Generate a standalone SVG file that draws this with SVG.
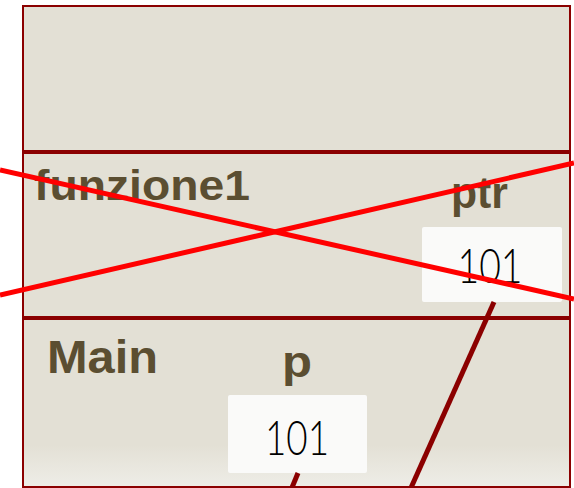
<svg xmlns="http://www.w3.org/2000/svg" width="574" height="488" viewBox="0 0 574 488">
<defs>
<style>
.frame{fill:#e3e0d5;stroke:#8b0000;stroke-width:2}
.sep{stroke:#8b0000;stroke-width:4}
.lbl{font-family:"Liberation Sans","DejaVu Sans",sans-serif;font-weight:bold;fill:#5b4e31}
.val{font-family:Lato,"Liberation Sans",sans-serif;font-weight:300;fill:#000;text-anchor:middle}
.box{fill:#fafaf9}
.conn{stroke:#8b0000;stroke-width:5;fill:none}
.cross{stroke:#ff0000;stroke-width:5}
</style>
<linearGradient id="bg" x1="0" y1="0" x2="0" y2="1">
<stop offset="0" stop-color="#e3e0d5"/>
<stop offset="0.75" stop-color="#e3e0d5"/>
<stop offset="1" stop-color="#eeede7"/>
</linearGradient>
</defs>
<rect width="574" height="488" fill="#ffffff"/>
<g id="frame-top">
<rect class="frame" x="23" y="6" width="547" height="146"/>
</g>
<g id="frame-funzione1">
<rect class="frame" x="23" y="152" width="547" height="166"/>
<text class="lbl" x="34" y="200" font-size="42" textLength="216" lengthAdjust="spacingAndGlyphs">funzione1</text>
</g>
<g id="frame-main">
<rect class="frame" x="23" y="318" width="547" height="169" fill="url(#bg)" style="fill:url(#bg)"/>
<text class="lbl" x="47" y="373" font-size="46" textLength="111" lengthAdjust="spacingAndGlyphs">Main</text>
</g>
<line class="sep" x1="23" y1="152" x2="570" y2="152"/>
<line class="sep" x1="23" y1="318" x2="570" y2="318"/>
<g id="var-ptr">
<text class="lbl" x="451" y="208" font-size="44" textLength="57" lengthAdjust="spacingAndGlyphs">ptr</text>
<rect class="box" x="422" y="227" width="140" height="75" rx="2"/>
<text class="val" x="490" y="283" font-size="48" textLength="65" lengthAdjust="spacingAndGlyphs">101</text>
</g>
<g id="var-p">
<text class="lbl" x="282" y="377" font-size="44" textLength="30" lengthAdjust="spacingAndGlyphs">p</text>
<rect class="box" x="228" y="395" width="139" height="78" rx="2"/>
<text class="val" x="297" y="455" font-size="48" textLength="64" lengthAdjust="spacingAndGlyphs">101</text>
</g>
<g id="connectors">
<line class="conn" x1="494" y1="302" x2="410" y2="490"/>
<line class="conn" x1="298" y1="473" x2="291" y2="490"/>
</g>
<g id="cross">
<line class="cross" x1="0" y1="170" x2="574" y2="299"/>
<line class="cross" x1="0" y1="295" x2="574" y2="163"/>
</g>
</svg>
